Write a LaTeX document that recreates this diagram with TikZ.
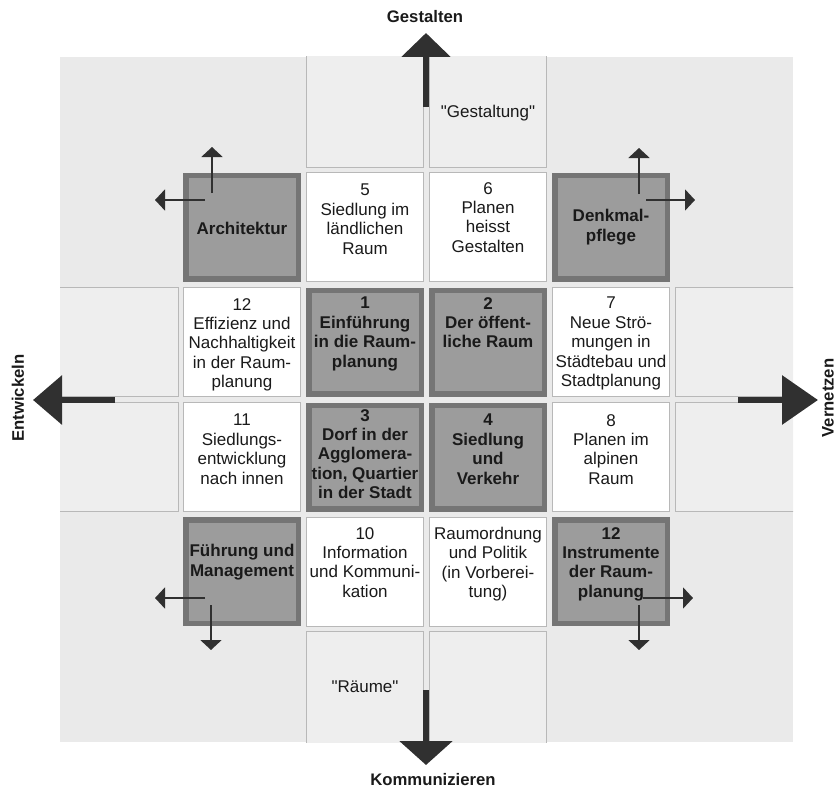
\documentclass[tikz,border=0pt]{standalone}
\usepackage{fontspec}
\setmainfont{Liberation Sans}
\usetikzlibrary{arrows.meta}
\definecolor{bg}{HTML}{EAEAEA}
\definecolor{outercell}{HTML}{EEEEEE}
\definecolor{cellline}{HTML}{B8B8B8}
\definecolor{darkin}{HTML}{9C9C9C}
\definecolor{darkout}{HTML}{757575}
\definecolor{arr}{HTML}{303030}
\definecolor{ink}{HTML}{1A1A1A}
\begin{document}
\begin{tikzpicture}[x=1pt,y=-1pt,
  whitecell/.style={draw=cellline, line width=0.8pt, fill=white, minimum width=117.2pt, minimum height=109.2pt, inner sep=0pt, outer sep=0pt},
  ghostcell/.style={draw=cellline, line width=0.8pt, fill=outercell, inner sep=0pt, outer sep=0pt},
  darkcell/.style={draw=darkout, line width=5.5pt, fill=darkin, minimum width=112.5pt, minimum height=103.5pt, inner sep=0pt, outer sep=0pt},
  txt/.style={font=\fontsize{17}{19.4}\selectfont, align=center, inner sep=0pt, anchor=north, text=ink},
  btxt/.style={txt, font=\fontsize{17}{19.4}\selectfont\bfseries},
  ctxt/.style={btxt, anchor=center},
  bigarrow/.style={draw=arr, line width=6.5pt},
  smallarrow/.style={draw=arr, line width=2pt, -{Triangle[length=10pt,width=21pt]}},
  axislabel/.style={font=\fontsize{16.7}{20}\selectfont\bfseries, inner sep=0pt, text=ink},
]
\useasboundingbox (0,0) rectangle (836,792);
% background field
\fill[bg] (60,57) rectangle (793,742);
% outer (ghost) cells, clipped to the field
\begin{scope}
\clip (60,57) rectangle (793,742);
\node[ghostcell, minimum width=117.2pt, minimum height=117pt] (g02) at (365,108.5) {};
\node[ghostcell, minimum width=117.2pt, minimum height=117pt] (g03) at (488,108.5) {};
\node[ghostcell, minimum width=117.2pt, minimum height=119pt] (g52) at (365,690.5) {};
\node[ghostcell, minimum width=117.2pt, minimum height=119pt] (g53) at (488,690.5) {};
\node[ghostcell, minimum width=126pt, minimum height=109.2pt] (g20) at (115,342) {};
\node[ghostcell, minimum width=126pt, minimum height=109.2pt] (g30) at (115,457) {};
\node[ghostcell, minimum width=125pt, minimum height=109.2pt] (g25) at (737.5,342) {};
\node[ghostcell, minimum width=125pt, minimum height=109.2pt] (g35) at (737.5,457) {};
\end{scope}
\node[txt, anchor=center] (tgest) at (488,113) {\textquotedbl Gestaltung\textquotedbl};
\node[txt, anchor=center] (traeume) at (365,687) {\textquotedbl Räume\textquotedbl};
% inner cells
\node[darkcell] (arch) at (242,227) {};
\node[whitecell] (c5) at (365,227) {};
\node[whitecell] (c6) at (488,227) {};
\node[darkcell] (denk) at (611,227) {};
\node[whitecell] (c12a) at (242,342) {};
\node[darkcell] (c1) at (365,342) {};
\node[darkcell] (c2) at (488,342) {};
\node[whitecell] (c7) at (611,342) {};
\node[whitecell] (c11) at (242,457) {};
\node[darkcell] (c3) at (365,457) {};
\node[darkcell] (c4) at (488,457) {};
\node[whitecell] (c8) at (611,457) {};
\node[darkcell] (fuehr) at (242,571.5) {};
\node[whitecell] (c10) at (365,571.5) {};
\node[whitecell] (craum) at (488,571.5) {};
\node[darkcell] (instr) at (611,571.5) {};
% texts
\node[ctxt] (tarch) at (242,228) {Architektur};
\node[txt] (t5) at (365,184) {5\\Siedlung im\\ländlichen\\Raum};
\node[txt] (t6) at (488,182) {6\\Planen\\heisst\\Gestalten};
\node[ctxt] (tdenk) at (611,227) {Denkmal-\\pflege};
\node[txt] (t12a) at (242,298) {12\\Effizienz und\\Nachhaltigkeit\\in der Raum-\\planung};
\node[btxt] (t1) at (365,297) {1\\Einführung\\in die Raum-\\planung};
\node[btxt] (t2) at (488,297) {2\\Der öffent-\\liche Raum};
\node[txt] (t7) at (611,297) {7\\Neue Strö-\\mungen in\\Städtebau und\\Stadtplanung};
\node[txt] (t11) at (242,414) {11\\Siedlungs-\\entwicklung\\nach innen};
\node[btxt] (t3) at (365,409) {3\\Dorf in der\\Agglomera-\\tion, Quartier\\in der Stadt};
\node[btxt] (t4) at (488,414) {4\\Siedlung\\und\\Verkehr};
\node[txt] (t8) at (611,414) {8\\Planen im\\alpinen\\Raum};
\node[ctxt] (tfuehr) at (242,562) {Führung und\\Management};
\node[txt] (t10) at (365,527) {10\\Information\\und Kommuni-\\kation};
\node[txt] (traum) at (488,527) {Raumordnung\\und Politik\\(in Vorberei-\\tung)};
\node[btxt] (tinstr) at (611,527) {12\\Instrumente\\der Raum-\\planung};
% big arrows
\coordinate (upS) at (426,107);
\coordinate (upT) at (426,33);
\coordinate (dnS) at (426,690);
\coordinate (dnT) at (426,765);
\coordinate (lfS) at (115,400);
\coordinate (lfT) at (33,400);
\coordinate (rtS) at (738,400);
\coordinate (rtT) at (818,400);
\draw[bigarrow, -{Triangle[length=24pt,width=48pt]}] (upS) -- (upT);
\draw[bigarrow, -{Triangle[length=24pt,width=52pt]}] (dnS) -- (dnT);
\draw[bigarrow, -{Triangle[length=29pt,width=48pt]}] (lfS) -- (lfT);
\draw[bigarrow, -{Triangle[length=36pt,width=48pt]}] (rtS) -- (rtT);
% axis labels
\node[axislabel] (lgest) at (425,17) {Gestalten};
\node[axislabel] (lkomm) at (433,780) {Kommunizieren};
\node[axislabel, rotate=90] (lentw) at (18,398) {Entwickeln};
\node[axislabel, rotate=90] (lvern) at (828,398) {Vernetzen};
% small arrows
\coordinate (a1s) at (212,193); \coordinate (a1t) at (212,147);
\coordinate (a2s) at (205,200); \coordinate (a2t) at (155,200);
\coordinate (a3s) at (639,194); \coordinate (a3t) at (639,148);
\coordinate (a4s) at (646,200); \coordinate (a4t) at (695,200);
\coordinate (a5s) at (205,598); \coordinate (a5t) at (155,598);
\coordinate (a6s) at (211,605); \coordinate (a6t) at (211,650);
\coordinate (a7s) at (643,598); \coordinate (a7t) at (693,598);
\coordinate (a8s) at (639,605); \coordinate (a8t) at (639,650);
\draw[smallarrow] (a1s) -- (a1t);
\draw[smallarrow] (a2s) -- (a2t);
\draw[smallarrow] (a3s) -- (a3t);
\draw[smallarrow] (a4s) -- (a4t);
\draw[smallarrow] (a5s) -- (a5t);
\draw[smallarrow] (a6s) -- (a6t);
\draw[smallarrow] (a7s) -- (a7t);
\draw[smallarrow] (a8s) -- (a8t);
\end{tikzpicture}
\end{document}
